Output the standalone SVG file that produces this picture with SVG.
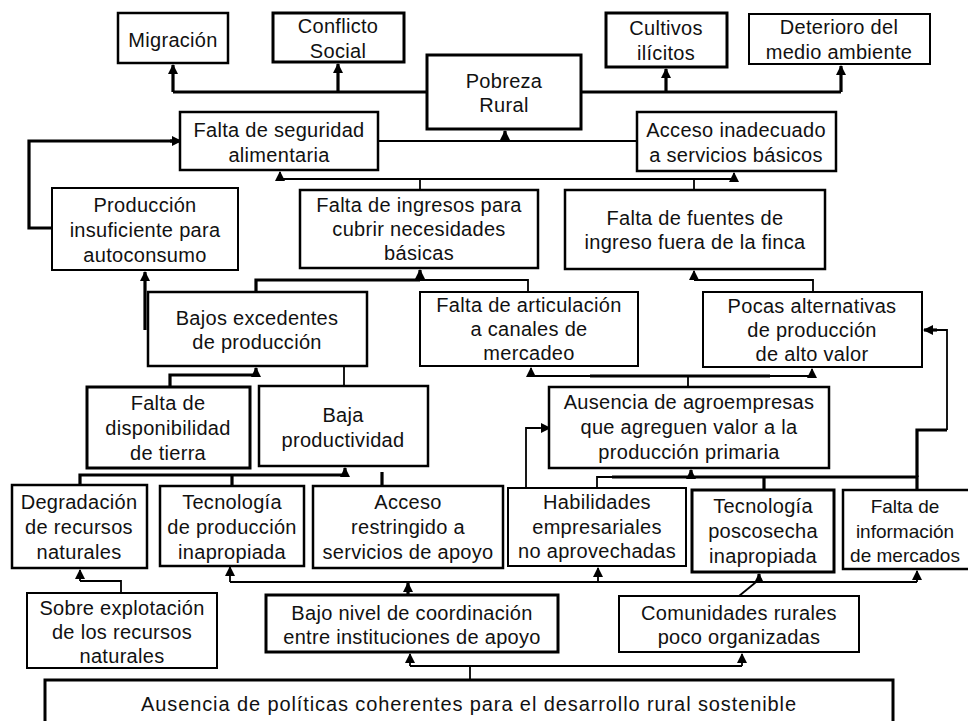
<svg xmlns="http://www.w3.org/2000/svg" width="968" height="721" viewBox="0 0 968 721">
<defs>
<style>
.bx{fill:#fff;stroke:#000}
.b2{stroke-width:2}
.b25{stroke-width:2.5}
.b3{stroke-width:3}
.t{font-family:"Liberation Sans",Arial,sans-serif;font-size:20px;text-anchor:middle;fill:#111;letter-spacing:0.3px}
.c{fill:none;stroke:#000;stroke-width:1.8}
.ct{fill:none;stroke:#000;stroke-width:3.2}
.a{marker-end:url(#ah)}
</style>
<marker id="ah" viewBox="0 0 10 10" refX="9" refY="5" markerWidth="10" markerHeight="10" markerUnits="userSpaceOnUse" orient="auto">
<path d="M0,0 L10,5 L0,10 z" fill="#000"/>
</marker>
</defs>
<rect width="968" height="721" fill="#fff"/>

<g id="connectors">
<path class="ct" d="M427,92 H173"/>
<path class="ct a" d="M173,92 V65"/>
<path class="ct a" d="M338,92 V64"/>
<path class="ct" d="M581,92 H841"/>
<path class="ct a" d="M841,92 V66"/>
<path class="ct a" d="M666,92 V69"/>
<path class="c" d="M378,141 H637"/>
<path class="ct a" d="M505,141 V131"/>
<path class="c" d="M280,179 H734"/>
<path class="c a" d="M280,179 V172"/>
<path class="c a" d="M734,179 V173"/>
<path class="c" d="M420,190 V179"/>
<path class="c" d="M694,190 V179"/>
<path class="ct" d="M52,228 H29 V141 H172"/>
<path class="ct a" d="M170,141 H181"/>
<path class="ct" d="M256,292 V280 H420"/>
<path class="c" d="M420,280 H528 V292"/>
<path class="ct a" d="M420,280 V270"/>
<path class="c" d="M813,292 V280 H694"/>
<path class="c a" d="M694,280 V271"/>
<path class="ct a" d="M145,330 V272"/>
<path class="ct" d="M170,387 V375 H256"/>
<path class="ct a" d="M256,375 V368"/>
<path class="c" d="M344,386 V367"/>
<path class="c" d="M688,387 V376"/>
<path class="c" d="M531,376 H812"/>
<path class="ct" d="M590,376 H770"/>
<path class="c a" d="M531,376 V368"/>
<path class="c a" d="M812,376 V369"/>
<path class="ct" d="M80,485 V475 H345"/>
<path class="ct a" d="M345,475 V468"/>
<path class="ct" d="M232,486 V475"/>
<path class="ct" d="M382,472 V486"/>
<path class="c" d="M526,488 V428 H540"/>
<path class="c a" d="M538,428 H550"/>
<path class="c" d="M597,488 V477 H620"/>
<path class="ct" d="M612,477 H917 V490"/>
<path class="ct a" d="M691,477 V470"/>
<path class="ct" d="M764,477 V490"/>
<path class="ct" d="M917,477 V430 H947"/>
<path class="c" d="M947,430 V330 H935"/>
<path class="ct a" d="M937,330 H924"/>
<path class="c" d="M121,593 V581 H80"/>
<path class="c a" d="M80,581 V570"/>
<path class="c" d="M230,582 H917"/>
<path class="c a" d="M230,582 V567"/>
<path class="ct a" d="M408,595 V583"/>
<path class="c a" d="M598,582 V568"/>
<path class="ct a" d="M759,582 V574"/>
<path class="c a" d="M917,582 V571"/>
<path class="c" d="M739,596 L761,578"/>
<path class="c" d="M470,680 V666"/>
<path class="c" d="M410,666 H742"/>
<path class="c a" d="M410,666 V654"/>
<path class="c a" d="M742,666 V654"/>
</g>

<g id="migracion"><rect class="bx b25" x="118" y="13" width="110" height="50"/><text class="t" x="173" y="47">Migración</text></g>
<g id="conflicto"><rect class="bx b3" x="273" y="13" width="131" height="49"/><text class="t" x="338" y="33">Conflicto</text><text class="t" x="338" y="58">Social</text></g>
<g id="pobreza"><rect class="bx b3" x="427" y="55" width="154" height="74"/><text class="t" x="504" y="88">Pobreza</text><text class="t" x="504" y="112">Rural</text></g>
<g id="cultivos"><rect class="bx b3" x="606" y="13" width="121" height="54"/><text class="t" x="666" y="35">Cultivos</text><text class="t" x="666" y="60">ilícitos</text></g>
<g id="deterioro"><rect class="bx b2" x="749" y="14" width="181" height="50"/><text class="t" x="839" y="34">Deterioro del</text><text class="t" x="839" y="59">medio ambiente</text></g>

<g id="seguridad"><rect class="bx b25" x="180" y="112" width="198" height="58"/><text class="t" x="279" y="137">Falta de seguridad</text><text class="t" x="279" y="162">alimentaria</text></g>
<g id="acceso-basicos"><rect class="bx b25" x="637" y="112" width="199" height="59"/><text class="t" x="736" y="137">Acceso inadecuado</text><text class="t" x="736" y="162">a servicios básicos</text></g>

<g id="produccion-insuficiente"><rect class="bx b2" x="52" y="188" width="186" height="82"/><text class="t" x="145" y="212">Producción</text><text class="t" x="145" y="237">insuficiente para</text><text class="t" x="145" y="262">autoconsumo</text></g>
<g id="falta-ingresos"><rect class="bx b25" x="300" y="190" width="238" height="78"/><text class="t" x="419" y="212">Falta de ingresos para</text><text class="t" x="419" y="236">cubrir necesidades</text><text class="t" x="419" y="260">básicas</text></g>
<g id="falta-fuentes"><rect class="bx b25" x="565" y="190" width="260" height="79"/><text class="t" x="695" y="225">Falta de fuentes de</text><text class="t" x="695" y="249">ingreso fuera de la finca</text></g>

<g id="bajos-excedentes"><rect class="bx b25" x="148" y="292" width="219" height="74"/><text class="t" x="257" y="325">Bajos excedentes</text><text class="t" x="257" y="349">de producción</text></g>
<g id="falta-articulacion"><rect class="bx b2" x="420" y="292" width="218" height="74"/><text class="t" x="529" y="312">Falta de articulación</text><text class="t" x="529" y="336">a canales de</text><text class="t" x="529" y="360">mercadeo</text></g>
<g id="pocas-alternativas"><rect class="bx b2" x="703" y="292" width="219" height="75"/><text class="t" x="812" y="313">Pocas alternativas</text><text class="t" x="812" y="337">de producción</text><text class="t" x="812" y="361">de alto valor</text></g>

<g id="falta-tierra"><rect class="bx b3" x="87" y="387" width="163" height="81"/><text class="t" x="168" y="410">Falta de</text><text class="t" x="168" y="435">disponibilidad</text><text class="t" x="168" y="460">de tierra</text></g>
<g id="baja-productividad"><rect class="bx b25" x="259" y="386" width="169" height="80"/><text class="t" x="343" y="422">Baja</text><text class="t" x="343" y="447">productividad</text></g>
<g id="ausencia-agroempresas"><rect class="bx b25" x="549" y="387" width="280" height="81"/><text class="t" x="689" y="409">Ausencia de agroempresas</text><text class="t" x="689" y="434">que agreguen valor a la</text><text class="t" x="689" y="459">producción primaria</text></g>

<g id="degradacion"><rect class="bx b25" x="12" y="485" width="135" height="83"/><text class="t" x="79" y="509">Degradación</text><text class="t" x="79" y="534">de recursos</text><text class="t" x="79" y="559">naturales</text></g>
<g id="tecnologia-produccion"><rect class="bx b25" x="160" y="486" width="144" height="80"/><text class="t" x="232" y="509">Tecnología</text><text class="t" x="232" y="534">de producción</text><text class="t" x="232" y="559">inapropiada</text></g>
<g id="acceso-restringido"><rect class="bx b25" x="313" y="486" width="190" height="82"/><text class="t" x="408" y="509">Acceso</text><text class="t" x="408" y="534">restringido a</text><text class="t" x="408" y="559">servicios de apoyo</text></g>
<g id="habilidades"><rect class="bx b2" x="508" y="488" width="178" height="78"/><text class="t" x="597" y="509">Habilidades</text><text class="t" x="597" y="534">empresariales</text><text class="t" x="597" y="558">no aprovechadas</text></g>
<g id="tecnologia-poscosecha"><rect class="bx b3" x="692" y="490" width="142" height="82"/><text class="t" x="763" y="513">Tecnología</text><text class="t" x="763" y="538">poscosecha</text><text class="t" x="763" y="563">inapropiada</text></g>
<g id="falta-informacion"><rect class="bx b25" x="843" y="490" width="142" height="79"/><text class="t" x="905" y="513" style="font-size:19px;letter-spacing:0">Falta de</text><text class="t" x="905" y="538" style="font-size:19px;letter-spacing:0">información</text><text class="t" x="905" y="562" style="font-size:19px;letter-spacing:0">de mercados</text></g>

<g id="sobre-explotacion"><rect class="bx b2" x="27" y="593" width="190" height="75"/><text class="t" x="122" y="615">Sobre explotación</text><text class="t" x="122" y="639">de los recursos</text><text class="t" x="122" y="663">naturales</text></g>
<g id="bajo-nivel"><rect class="bx b3" x="266" y="595" width="292" height="57"/><text class="t" x="412" y="620">Bajo nivel de coordinación</text><text class="t" x="412" y="644">entre instituciones de apoyo</text></g>
<g id="comunidades"><rect class="bx b2" x="619" y="596" width="240" height="56"/><text class="t" x="739" y="620">Comunidades rurales</text><text class="t" x="739" y="644">poco organizadas</text></g>

<g id="ausencia-politicas"><rect class="bx b3" x="45" y="680" width="848" height="60"/><text class="t" x="469" y="711" style="letter-spacing:0.9px">Ausencia de políticas coherentes para el desarrollo rural sostenible</text></g>
</svg>
